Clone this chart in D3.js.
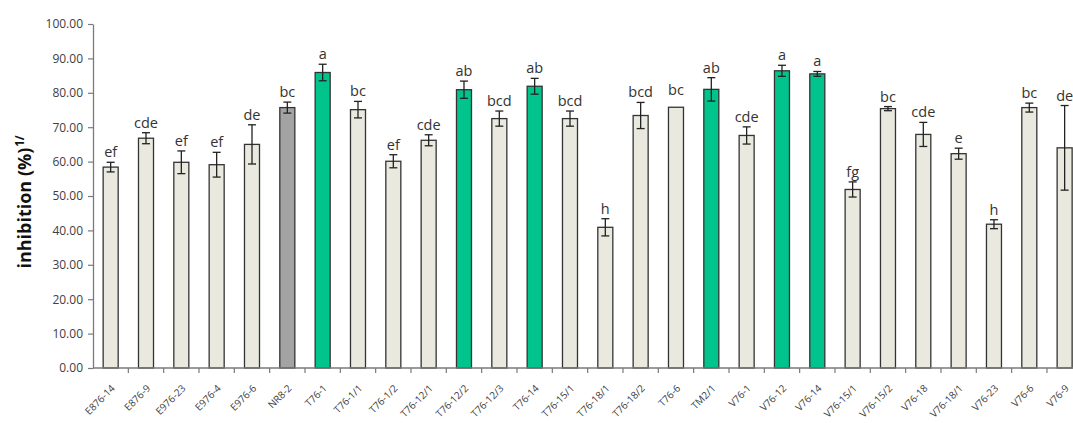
<!DOCTYPE html>
<html><head><meta charset="utf-8">
<script src="https://cdn.jsdelivr.net/npm/d3@7"></script>
<style>
html,body{margin:0;padding:0;background:#fff;}
svg{display:block;font-family:"Open Sans",sans-serif;}
</style></head>
<body><svg id="chart" width="1073" height="423"></svg>
<script>
const categories = ["E876-14","E876-9","E976-23","E976-4","E976-6","NR8-2","T76-1","T76-1/1","T76-1/2","T76-12/1","T76-12/2","T76-12/3","T76-14","T76-15/1","T76-18/1","T76-18/2","T76-6","TM2/1","V76-1","V76-12","V76-14","V76-15/1","V76-15/2","V76-18","V76-18/1","V76-23","V76-6","V76-9"];
const values = [58.4,66.8,59.8,59.1,65.0,75.7,85.9,75.1,60.1,66.2,80.9,72.5,81.9,72.5,40.9,73.4,75.8,81.0,67.6,86.4,85.5,51.9,75.4,67.9,62.3,41.8,75.7,64.0];
const errors = [1.4,1.6,3.3,3.6,5.7,1.6,2.4,2.4,1.9,1.6,2.5,2.2,2.3,2.2,2.5,3.8,0,3.4,2.5,1.6,0.7,2.2,0.6,3.5,1.6,1.3,1.3,12.3];
const letters = ["ef","cde","ef","ef","de","bc","a","bc","ef","cde","ab","bcd","ab","bcd","h","bcd","bc","ab","cde","a","a","fg","bc","cde","e","h","bc","de"];
const groups = ["line","line","line","line","line","check","select","line","line","line","select","line","select","line","line","line","line","select","line","select","select","line","line","line","line","line","line","line"];
const yTicks = [0,10,20,30,40,50,60,70,80,90,100];
const yTitle = "inhibition (%)";
const yTitleSup = "1/";

const colors = {line:"#EAE9DF", check:"#A3A3A3", select:"#00C48C"};

const svg = d3.select("#chart");
const x = d3.scaleBand().domain(categories).range([93, 1082.3]).paddingInner(0.575).paddingOuter(0.2875);
const y = d3.scaleLinear().domain([0,100]).range([368, 24]);
const step = x.step(), bw = x.bandwidth();

// y axis
const yAxis = svg.append("g").attr("transform","translate(93,0)")
  .call(d3.axisLeft(y).tickValues(yTicks).tickFormat(d3.format(".2f")).tickSize(5).tickSizeOuter(0));
yAxis.select(".domain").attr("stroke","#7a7a7a").attr("stroke-width",1.3);
yAxis.selectAll(".tick line").attr("stroke","#7a7a7a").attr("stroke-width",1.2);
yAxis.selectAll(".tick text").attr("font-size",12).attr("fill","#404040").attr("font-family","Open Sans").attr("x",-10);

// y title
const t = svg.append("text").attr("x",31).attr("y",y(50)+6)
  .attr("transform","rotate(-90,31,"+(y(50)+6)+")")
  .attr("text-anchor","middle").attr("font-size",18).attr("font-weight","bold").attr("fill","#111");
t.append("tspan").text(yTitle);
t.append("tspan").text(yTitleSup).attr("font-size",11.5).attr("dy",-7).attr("dx",1);

// bars, error bars, letters
const g = svg.append("g");
categories.forEach((c,i)=>{
  const x0 = x(c);
  g.append("rect").attr("x",x0).attr("y",y(values[i])).attr("width",bw).attr("height",y(0)-y(values[i]))
   .attr("fill",colors[groups[i]]).attr("stroke","#333").attr("stroke-width",1.3);
  const cx = x0 + bw/2;
  if (errors[i] > 0) {
    const hi = y(values[i]+errors[i]), lo = y(values[i]-errors[i]);
    g.append("line").attr("x1",cx).attr("x2",cx).attr("y1",hi).attr("y2",lo).attr("stroke","#222").attr("stroke-width",1.3);
    g.append("line").attr("x1",cx-4).attr("x2",cx+4).attr("y1",hi).attr("y2",hi).attr("stroke","#222").attr("stroke-width",1.3);
    g.append("line").attr("x1",cx-4).attr("x2",cx+4).attr("y1",lo).attr("y2",lo).attr("stroke","#222").attr("stroke-width",1.3);
  }
  const top = y(values[i]+errors[i]);
  g.append("text").attr("x",cx).attr("y",top-(errors[i]>0?5:12)).attr("text-anchor","middle")
   .attr("font-size",14.5).attr("fill","#333").text(letters[i]);
});

// x axis line, ticks between categories, rotated labels
svg.append("line").attr("x1",93).attr("x2",1073).attr("y1",y(0)).attr("y2",y(0)).attr("stroke","#7a7a7a").attr("stroke-width",1.3);
categories.forEach((c,i)=>{
  const xb = x(c) + bw + (step-bw)/2;
  svg.append("line").attr("x1",xb).attr("x2",xb).attr("y1",y(0)).attr("y2",y(0)+5).attr("stroke","#7a7a7a").attr("stroke-width",1.2);
  const ax = x(c)+bw/2+5, ay = y(0)+21;
  svg.append("text").attr("x",ax).attr("y",ay).attr("transform","rotate(-45,"+ax+","+ay+")")
   .attr("text-anchor","end").attr("font-size",10).attr("fill","#404040").text(c);
});
</script></body></html>
